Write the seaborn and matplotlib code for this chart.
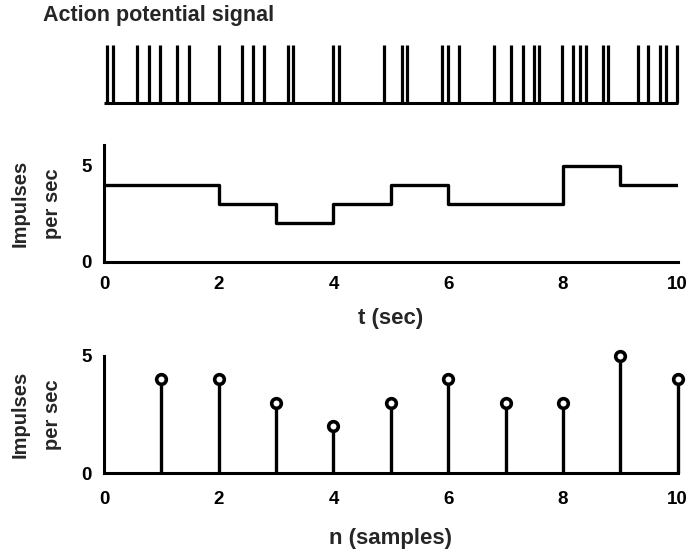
import numpy as np
import pandas as pd
import matplotlib
matplotlib.use("Agg")
import matplotlib.pyplot as plt
import seaborn as sns

# Spike times of the recorded action potential train (seconds)
spike_times = [0.06, 0.16, 0.57, 0.79, 0.98, 1.28, 1.49, 2.01, 2.40, 2.60,
               2.79, 3.21, 3.29, 3.99, 4.10, 4.88, 5.19, 5.28, 5.89, 6.00,
               6.19, 6.79, 7.09, 7.30, 7.50, 7.59, 7.99, 8.18, 8.29, 8.40,
               8.70, 8.79, 9.30, 9.49, 9.70, 9.79, 9.99]

# Firing rate counted in each one-second window
window_edges = [0, 1, 2, 3, 4, 5, 6, 7, 8, 9, 10]
rates = [4, 4, 3, 2, 3, 4, 3, 3, 5, 4]
samples = [1, 2, 3, 4, 5, 6, 7, 8, 9, 10]

x_ticks = [0, 2, 4, 6, 8, 10]
y_ticks = [0, 5]

sns.set_style("white")
plt.rcParams["font.family"] = ["Liberation Sans", "DejaVu Sans"]
plt.rcParams["font.weight"] = "bold"

W, H = 690, 553
fig = plt.figure(figsize=(W / 100, H / 100), dpi=100)

left = 104 / W
width = 573.7 / W
ax_top = fig.add_axes([left, 1 - 103 / H, width, 58 / H])
ax_mid = fig.add_axes([left, 1 - 261.7 / H, width, 116.7 / H])
ax_bot = fig.add_axes([left, 1 - 473.3 / H, width, 117.3 / H])

# Spike train
ax_top.vlines(spike_times, 0, 1, color="black", lw=2.3, clip_on=False)
ax_top.hlines(0, 0, 10, color="black", lw=2.2, clip_on=False)
ax_top.set_xlim(0, 10)
ax_top.set_ylim(0, 1)
ax_top.axis("off")

fig.text(43 / W, 1 - 15 / H, "Action potential signal", fontsize=15.5,
         fontweight="bold", ha="left", va="center")

# Continuous-time rate (piecewise constant)
step_df = pd.DataFrame({"t": window_edges, "rate": rates + [rates[-1]]})
sns.lineplot(data=step_df, x="t", y="rate", drawstyle="steps-post",
             color="black", lw=2.4, ax=ax_mid)
ax_mid.set_xlim(0, 10)
ax_mid.set_ylim(0, 6.08)

# Discrete-time samples
ax_bot.vlines(samples, 0, rates, color="black", lw=2.4, zorder=2,
              clip_on=False)
sns.scatterplot(x=samples, y=rates, marker="o", s=48, facecolor="white",
                edgecolor="black", linewidth=2.6, zorder=3, clip_on=False,
                ax=ax_bot)
ax_bot.set_xlim(0, 10)
ax_bot.set_ylim(0, 5)

for ax, xl, xpad, lp in [(ax_mid, "t (sec)", 10, 11), (ax_bot, "n (samples)", 13, 14)]:
    for side in ["top", "right"]:
        ax.spines[side].set_visible(False)
    for side in ["left", "bottom"]:
        ax.spines[side].set_linewidth(2.2)
        ax.spines[side].set_color("black")
    ax.set_xticks(x_ticks)
    ax.set_yticks(y_ticks)
    ax.tick_params(axis="both", direction="in", length=6, width=1.6,
                   colors="black", labelsize=13.5)
    ax.tick_params(axis="x", pad=xpad)
    ax.tick_params(axis="y", pad=9)
    ax.set_xlabel(xl, fontsize=16, fontweight="bold", labelpad=lp)
    ax.set_ylabel("Impulses\nper sec", fontsize=14.5, fontweight="bold",
                  labelpad=14, linespacing=1.9)

fig.savefig("out.png", dpi=100, facecolor="white")
